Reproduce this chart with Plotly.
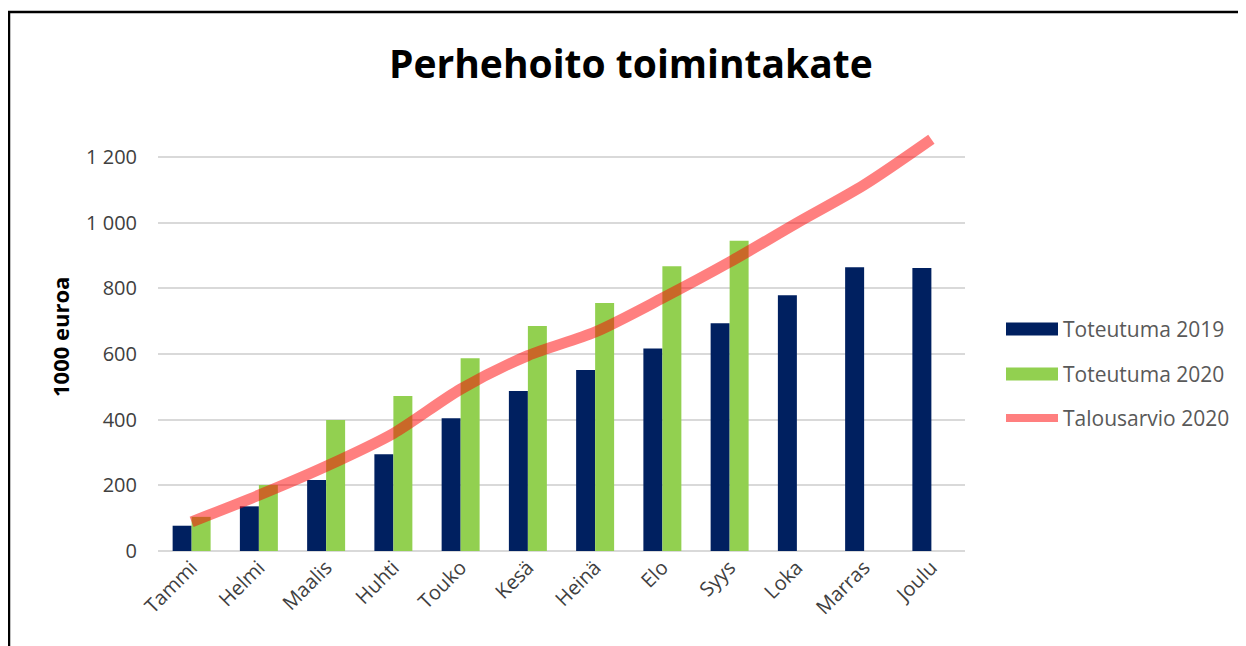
import plotly.graph_objects as go

# Kuukaudet ja arvot (1000 euroa), luettu kuvasta
months = ["Tammi", "Helmi", "Maalis", "Huhti", "Touko", "Kesä",
          "Heinä", "Elo", "Syys", "Loka", "Marras", "Joulu"]
toteutuma_2019 = [77, 136, 216, 295, 404, 487, 551, 617, 694, 779, 864, 862]
toteutuma_2020 = [104, 201, 399, 472, 587, 685, 755, 867, 945, None, None, None]
talousarvio_2020 = [89, 170, 258, 358, 493, 595, 667, 770, 880, 999, 1115, 1254]

y_ticks = [0, 200, 400, 600, 800, 1000, 1200]

# sarjojen nimet ja värit
names = ["Toteutuma 2019", "Toteutuma 2020", "Talousarvio 2020"]
navy = "#002060"
green = "#92D050"
red = "rgba(255,0,0,0.5)"

FONT = "Open Sans"
OFF = 8  # sivun body-marginaali
W, H = 1246 - OFF, 646 - OFF
L, R, T, B = 158 - OFF, 281, 134 - OFF, 95


def px_x(px):
    # kuvan pikselistä paper-koordinaatiksi
    return (px - OFF - L) / (W - L - R)


def px_y(py):
    return (H - B - (py - OFF)) / (H - B - T)


fig = go.Figure()

fig.add_trace(go.Bar(x=months, y=toteutuma_2019, name=names[0],
                     marker=dict(color=navy, line=dict(width=0))))
fig.add_trace(go.Bar(x=months, y=toteutuma_2020, name=names[1],
                     marker=dict(color=green, line=dict(width=0))))
fig.add_trace(go.Scatter(x=months, y=talousarvio_2020, name=names[2], mode="lines",
                         line=dict(color=red, width=11, shape="spline", smoothing=0.8)))

fig.update_layout(
    width=W, height=H,
    margin=dict(l=L, r=R, t=T, b=B),
    paper_bgcolor="white", plot_bgcolor="white",
    font=dict(family=FONT, color="#404040", size=20),
    separators=", ",
    showlegend=False,
    barmode="group", bargap=0.435, bargroupgap=0,
)

fig.update_xaxes(showgrid=False, showline=False, ticks="", tickangle=-45,
                 tickfont=dict(size=20, color="#404040"))
fig.update_yaxes(range=[0, 1270], tickvals=y_ticks, tickformat=",d",
                 showgrid=True, gridcolor="#D9D9D9", gridwidth=1.5,
                 zeroline=True, zerolinecolor="#D9D9D9", zerolinewidth=1.5,
                 showline=False, ticks="", ticklabelstandoff=20,
                 tickfont=dict(size=20, color="#404040"))

# otsikko ja akselin nimi
fig.add_annotation(text="<b>Perhehoito toimintakate</b>", xref="paper", yref="paper",
                   x=px_x(631), y=px_y(63), xanchor="center", yanchor="middle",
                   showarrow=False, font=dict(size=39, color="#000000", family=FONT))
fig.add_annotation(text="<b>1000 euroa</b>", xref="paper", yref="paper",
                   x=px_x(60), y=px_y(337), xanchor="center", yanchor="middle",
                   textangle=-90, showarrow=False,
                   font=dict(size=22, color="#000000", family=FONT))

# selite
legend_y = [329, 374, 418]
for i, (nm, yy) in enumerate(zip(names, legend_y)):
    if i < 2:
        fig.add_shape(type="rect", xref="paper", yref="paper",
                      x0=px_x(1006), x1=px_x(1058), y0=px_y(yy + 6.5), y1=px_y(yy - 6.5),
                      fillcolor=[navy, green][i], line=dict(width=0))
    else:
        fig.add_shape(type="line", xref="paper", yref="paper",
                      x0=px_x(1006), x1=px_x(1058), y0=px_y(yy), y1=px_y(yy),
                      line=dict(color=red, width=8))
    fig.add_annotation(text=nm, xref="paper", yref="paper",
                       x=px_x(1061), y=px_y(yy), xanchor="left", yanchor="middle",
                       showarrow=False, font=dict(size=21, color="#595959", family=FONT))

# kehys (vasen ja yläreuna)
fig.add_shape(type="line", xref="paper", yref="paper",
              x0=px_x(8), x1=px_x(1260), y0=px_y(12), y1=px_y(12),
              line=dict(color="black", width=2.5))
fig.add_shape(type="line", xref="paper", yref="paper",
              x0=px_x(9), x1=px_x(9), y0=px_y(11), y1=px_y(660),
              line=dict(color="black", width=2.5))

fig.write_html("out.html")
